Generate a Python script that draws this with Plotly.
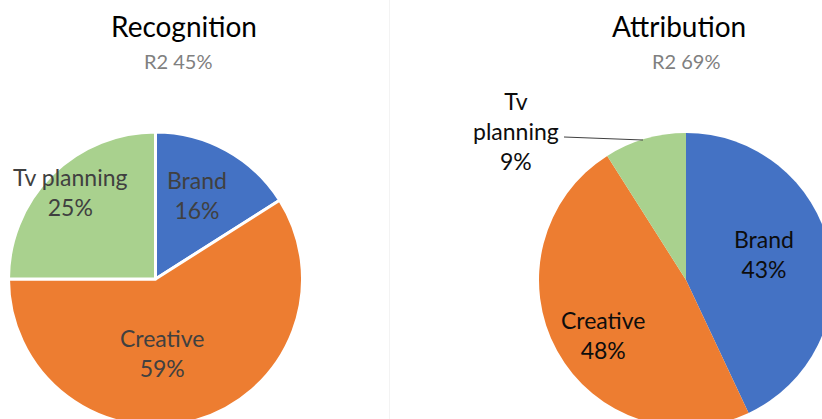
import plotly.graph_objects as go

# Channel shares for each model
categories = ["Brand", "Creative", "Tv planning"]
recognition_values = [16, 59, 25]
attribution_values = [43, 48, 9]
titles = ["Recognition", "Attribution"]
subtitles = ["R2 45%", "R2 69%"]

colors = ["#4472C4", "#ED7D31", "#A9D18E"]

# The canvas is slightly larger than the viewport so both pies run off the edges
W, H = 850, 440


def px(x):
    return x / W


def py(y):
    return 1 - y / H


fig = go.Figure()

fig.add_trace(go.Pie(
    labels=categories,
    values=recognition_values,
    sort=False,
    direction="clockwise",
    rotation=0,
    marker=dict(colors=colors, line=dict(color="white", width=3)),
    textinfo="none",
    hoverinfo="label+percent",
    domain=dict(x=[px(8.5), px(302.5)], y=[py(426), py(132)]),
    showlegend=False,
))

fig.add_trace(go.Pie(
    labels=categories,
    values=attribution_values,
    sort=False,
    direction="clockwise",
    rotation=0,
    marker=dict(colors=colors, line=dict(width=0)),
    textinfo="none",
    hoverinfo="label+percent",
    domain=dict(x=[px(539), px(833)], y=[py(427), py(133)]),
    showlegend=False,
))

FONT = "Lato, 'Open Sans', sans-serif"
annotations = []

# Chart titles and R2 subtitles
for title, sub, tx, sx in zip(titles, subtitles, [184, 679], [178, 686]):
    annotations.append(dict(x=px(tx), y=py(26), text=title, showarrow=False,
                            xanchor="center", yanchor="middle",
                            font=dict(family=FONT, size=28, color="#000000")))
    annotations.append(dict(x=px(sx), y=py(61), text=sub, showarrow=False,
                            xanchor="center", yanchor="middle",
                            font=dict(family=FONT, size=20, color="#808080")))

# Data labels: category name over its percentage
left_label_pos = [(197, 195), (162, 353), (70, 192)]
for cat, val, (lx, ly) in zip(categories, recognition_values, left_label_pos):
    annotations.append(dict(x=px(lx), y=py(ly), text=f"{cat}<br>{val}%", showarrow=False,
                            xanchor="center", yanchor="middle", align="center",
                            font=dict(family=FONT, size=23, color="#404040")))

right_label_pos = [(764, 254), (603, 335), (516, 131)]
right_texts = [f"{categories[0]}<br>{attribution_values[0]}%",
               f"{categories[1]}<br>{attribution_values[1]}%",
               f"Tv<br>planning<br>{attribution_values[2]}%"]
for txt, (lx, ly) in zip(right_texts, right_label_pos):
    annotations.append(dict(x=px(lx), y=py(ly), text=txt, showarrow=False,
                            xanchor="center", yanchor="middle", align="center",
                            font=dict(family=FONT, size=23, color="#0d0d0d")))

# Leader line from the outside label to its slice
shapes = [
    dict(type="line", xref="paper", yref="paper",
         x0=px(564), y0=py(137), x1=px(643), y1=py(140),
         line=dict(color="#404040", width=1)),
    # faint border between the two chart areas
    dict(type="line", xref="paper", yref="paper",
         x0=px(389.5), y0=0, x1=px(389.5), y1=1,
         line=dict(color="#f3f3f3", width=1)),
]

fig.update_layout(
    width=W, height=H,
    margin=dict(l=0, r=0, t=0, b=0),
    paper_bgcolor="white",
    plot_bgcolor="white",
    annotations=annotations,
    shapes=shapes,
    font=dict(family=FONT),
)

fig.write_html(
    "out.html",
    post_script="document.body.style.margin='0';document.body.style.overflow='hidden';"
                "document.documentElement.style.overflow='hidden';",
)
